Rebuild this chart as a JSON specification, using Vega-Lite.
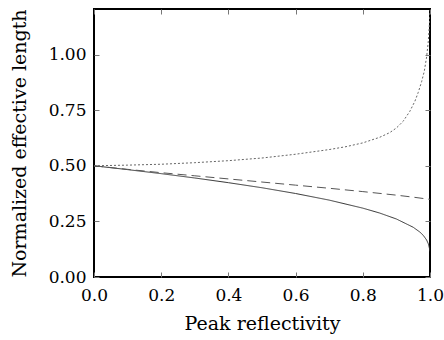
{
  "$schema": "https://vega.github.io/schema/vega-lite/v6.json",
  "width": 336,
  "height": 268,
  "autosize": "none",
  "padding": {"left": 94, "top": 9, "right": 14, "bottom": 63},
  "background": "white",
  "config": {
    "view": {"stroke": "#000000", "strokeWidth": 2},
    "axis": {
      "domain": false,
      "grid": false,
      "tickColor": "#777",
      "tickWidth": 1,
      "tickSize": -5,
      "labelFont": "DejaVu Serif",
      "labelFontSize": 17,
      "labelColor": "#000",
      "titleFont": "DejaVu Serif",
      "titleFontSize": 19,
      "titleFontWeight": "normal",
      "titleColor": "#000"
    }
  },
  "data": {
    "values": [
      {"R": 0.0, "v": 0.5, "s": "a"},
      {"R": 0.05, "v": 0.4915, "s": "a"},
      {"R": 0.1, "v": 0.4828, "s": "a"},
      {"R": 0.2, "v": 0.4647, "s": "a"},
      {"R": 0.3, "v": 0.4452, "s": "a"},
      {"R": 0.4, "v": 0.4241, "s": "a"},
      {"R": 0.5, "v": 0.4013, "s": "a"},
      {"R": 0.6, "v": 0.3754, "s": "a"},
      {"R": 0.7, "v": 0.3457, "s": "a"},
      {"R": 0.8, "v": 0.3096, "s": "a"},
      {"R": 0.85, "v": 0.2877, "s": "a"},
      {"R": 0.9, "v": 0.2608, "s": "a"},
      {"R": 0.95, "v": 0.2237, "s": "a"},
      {"R": 0.97, "v": 0.2019, "s": "a"},
      {"R": 0.98, "v": 0.1872, "s": "a"},
      {"R": 0.99, "v": 0.1662, "s": "a"},
      {"R": 0.995, "v": 0.1493, "s": "a"},
      {"R": 0.998, "v": 0.1314, "s": "a"},
      {"R": 1.0, "v": 0.115, "s": "a"},
      {"R": 0.0, "v": 0.5, "s": "b"},
      {"R": 0.1, "v": 0.484, "s": "b"},
      {"R": 0.2, "v": 0.469, "s": "b"},
      {"R": 0.3, "v": 0.455, "s": "b"},
      {"R": 0.4, "v": 0.441, "s": "b"},
      {"R": 0.5, "v": 0.427, "s": "b"},
      {"R": 0.6, "v": 0.413, "s": "b"},
      {"R": 0.7, "v": 0.399, "s": "b"},
      {"R": 0.8, "v": 0.384, "s": "b"},
      {"R": 0.9, "v": 0.368, "s": "b"},
      {"R": 0.95, "v": 0.359, "s": "b"},
      {"R": 1.0, "v": 0.349, "s": "b"},
      {"R": 0.0, "v": 0.5, "s": "c"},
      {"R": 0.1, "v": 0.503, "s": "c"},
      {"R": 0.2, "v": 0.507, "s": "c"},
      {"R": 0.3, "v": 0.514, "s": "c"},
      {"R": 0.4, "v": 0.523, "s": "c"},
      {"R": 0.5, "v": 0.535, "s": "c"},
      {"R": 0.6, "v": 0.552, "s": "c"},
      {"R": 0.7, "v": 0.573, "s": "c"},
      {"R": 0.75, "v": 0.586, "s": "c"},
      {"R": 0.8, "v": 0.603, "s": "c"},
      {"R": 0.85, "v": 0.628, "s": "c"},
      {"R": 0.88, "v": 0.649, "s": "c"},
      {"R": 0.9, "v": 0.670, "s": "c"},
      {"R": 0.92, "v": 0.700, "s": "c"},
      {"R": 0.94, "v": 0.745, "s": "c"},
      {"R": 0.955, "v": 0.790, "s": "c"},
      {"R": 0.965, "v": 0.830, "s": "c"},
      {"R": 0.975, "v": 0.878, "s": "c"},
      {"R": 0.983, "v": 0.925, "s": "c"},
      {"R": 0.99, "v": 0.99, "s": "c"},
      {"R": 0.995, "v": 1.06, "s": "c"},
      {"R": 0.998, "v": 1.13, "s": "c"},
      {"R": 1.0, "v": 1.2, "s": "c"}
    ]
  },
  "layer": [
    {
      "mark": {"type": "line", "strokeWidth": 1, "clip": true},
      "encoding": {
        "x": {
          "field": "R", "type": "quantitative",
          "scale": {"domain": [0, 1], "nice": false},
          "axis": {"values": [0, 0.2, 0.4, 0.6, 0.8, 1.0], "format": ".1f", "labelFlush": false, "labelPadding": 15, "title": "Peak reflectivity", "titlePadding": 11}
        },
        "y": {
          "field": "v", "type": "quantitative",
          "scale": {"domain": [0, 1.205], "nice": false, "zero": true},
          "axis": {"values": [0, 0.25, 0.5, 0.75, 1.0], "format": ".2f", "labelFlush": false, "labelPadding": 13, "title": "Normalized effective length", "titlePadding": 19}
        },
        "color": {"field": "s", "type": "nominal", "legend": null, "scale": {"domain": ["a", "b", "c"], "range": ["#333333", "#555555", "#666666"]}},
        "strokeDash": {"field": "s", "type": "nominal", "legend": null, "scale": {"domain": ["a", "b", "c"], "range": [[1, 0], [9, 5], [2, 2]]}}
      }
    },
    {
      "mark": {"type": "line", "opacity": 0},
      "encoding": {
        "x": {
          "field": "R", "type": "quantitative",
          "scale": {"domain": [0, 1], "nice": false},
          "axis": {"orient": "top", "values": [0, 0.2, 0.4, 0.6, 0.8, 1.0], "labels": false, "title": null}
        },
        "y": {
          "field": "v", "type": "quantitative",
          "scale": {"domain": [0, 1.205], "nice": false, "zero": true},
          "axis": {"orient": "right", "values": [0, 0.25, 0.5, 0.75, 1.0], "labels": false, "title": null}
        },
        "detail": {"field": "s"}
      }
    }
  ],
  "resolve": {"axis": {"x": "independent", "y": "independent"}}
}
